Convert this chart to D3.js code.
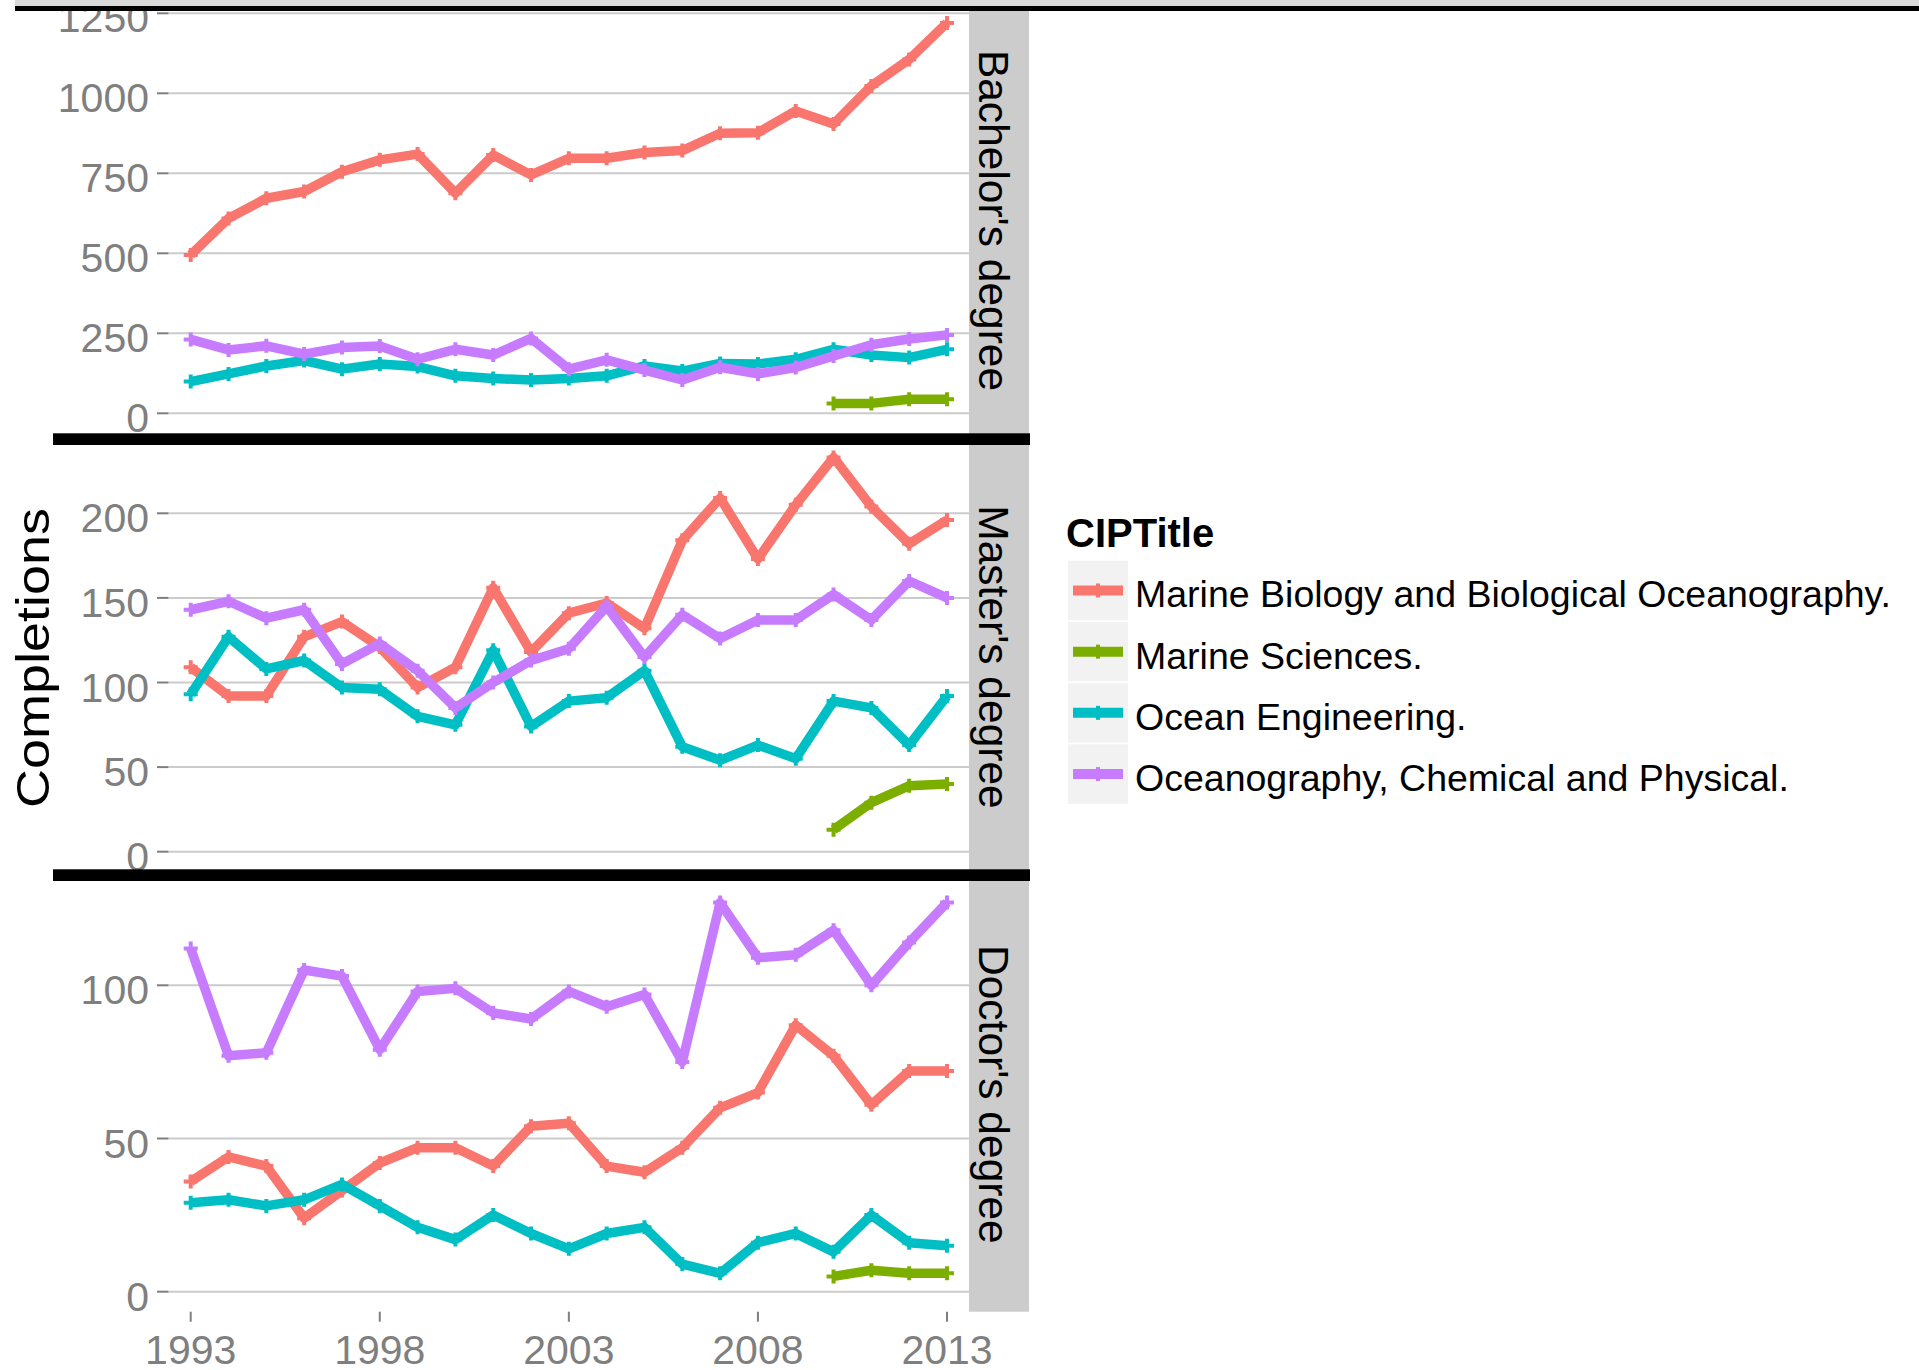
<!DOCTYPE html>
<html>
<head>
<meta charset="utf-8">
<script src="https://cdn.jsdelivr.net/npm/d3@7"></script>
<style>
  html, body { margin: 0; padding: 0; background: #ffffff; }
  svg { display: block; }
  text { font-family: "Liberation Sans", Arial, Helvetica, sans-serif; }
</style>
</head>
<body>
<div id="chart"></div>
<script>
// ---------------- DATA ----------------
const years = [1993, 1994, 1995, 1996, 1997, 1998, 1999, 2000, 2001, 2002, 2003,
               2004, 2005, 2006, 2007, 2008, 2009, 2010, 2011, 2012, 2013];

const seriesNames = [
  "Marine Biology and Biological Oceanography.",
  "Marine Sciences.",
  "Ocean Engineering.",
  "Oceanography, Chemical and Physical."
];
const seriesColors = ["#F8766D", "#7CAE00", "#00BFC4", "#C77CFF"];

const degreeNames = ["Bachelor's degree", "Master's degree", "Doctor's degree"];

// Bachelor's degree
const bachelorMarineBio = [495, 609, 672, 693, 755, 792, 810, 688, 807, 745, 797,
                           797, 815, 821, 875, 877, 945, 904, 1023, 1106, 1220];
const bachelorMarineSci = [null, null, null, null, null, null, null, null, null, null, null,
                           null, null, null, null, null, null, 31, 31, 44, 44];
const bachelorOceanEng  = [99, 123, 148, 165, 138, 154, 146, 117, 109, 104, 109,
                           117, 148, 132, 156, 154, 169, 200, 182, 174, 200];
const bachelorOceanogr  = [231, 198, 211, 185, 206, 210, 169, 200, 182, 234, 138,
                           167, 135, 104, 144, 123, 143, 179, 214, 232, 245];

// Master's degree
const masterMarineBio = [109, 92, 92, 127, 136, 121, 97, 109, 156, 118, 141,
                         147, 132, 184, 209, 173, 205, 233, 204, 182, 196];
const masterMarineSci = [null, null, null, null, null, null, null, null, null, null, null,
                         null, null, null, null, null, null, 13, 29, 39, 40];
const masterOceanEng  = [93, 127, 108, 113, 97, 96, 80, 75, 119, 74, 89,
                         91, 107, 62, 54, 63, 55, 89, 85, 63, 92];
const masterOceanogr  = [143, 148, 138, 143, 111, 123, 107, 85, 100, 113, 120,
                         145, 115, 140, 126, 137, 137, 152, 137, 160, 150];

// Doctor's degree
const doctorMarineBio = [36, 44, 41, 24, 33, 42, 47, 47, 41, 54, 55,
                         41, 39, 47, 60, 65, 87, 77, 61, 72, 72];
const doctorMarineSci = [null, null, null, null, null, null, null, null, null, null, null,
                         null, null, null, null, null, null, 5, 7, 6, 6];
const doctorOceanEng  = [29, 30, 28, 30, 35, 28, 21, 17, 25, 19, 14,
                         19, 21, 9, 6, 16, 19, 13, 25, 16, 15];
const doctorOceanogr  = [112, 77, 78, 105, 103, 79, 98, 99, 91, 89, 98,
                         93, 97, 75, 127, 109, 110, 118, 100, 114, 127];

// Tick labels
const xTicks = [1993, 1998, 2003, 2008, 2013];
const bachelorTicks = [0, 250, 500, 750, 1000, 1250];
const masterTicks = [0, 50, 100, 150, 200];
const doctorTicks = [0, 50, 100];

const yTitle = "Completions";
const legendTitle = "CIPTitle";

// ---------------- LAYOUT ----------------
const W = 1919, H = 1370;
const panelLeft = 168.5, panelRight = 969, stripRight = 1029;

const panels = [
  { name: degreeNames[0], top: 4,   bottom: 437,    domain: [0, 1250], range: [413.3, 13.3],
    ticks: bachelorTicks, series: [bachelorMarineBio, bachelorMarineSci, bachelorOceanEng, bachelorOceanogr] },
  { name: degreeNames[1], top: 441, bottom: 873,    domain: [0, 200],  range: [851.7, 513.3],
    ticks: masterTicks, series: [masterMarineBio, masterMarineSci, masterOceanEng, masterOceanogr] },
  { name: degreeNames[2], top: 877, bottom: 1311.7, domain: [0, 100],  range: [1291.7, 985.3],
    ticks: doctorTicks, series: [doctorMarineBio, doctorMarineSci, doctorOceanEng, doctorOceanogr] }
];

const x = d3.scaleLinear().domain([1993, 2013]).range([190.7, 947]);

const svg = d3.select("#chart").append("svg")
  .attr("width", W).attr("height", H)
  .attr("viewBox", `0 0 ${W} ${H}`);

svg.append("rect").attr("width", W).attr("height", H).attr("fill", "#ffffff");

const tickColor = "#7f7f7f";
const gridColor = "#cbcbcb";

panels.forEach(p => {
  const y = d3.scaleLinear().domain(p.domain).range(p.range);
  const g = svg.append("g");

  // panel background
  g.append("rect")
    .attr("x", panelLeft).attr("y", p.top)
    .attr("width", panelRight - panelLeft).attr("height", p.bottom - p.top)
    .attr("fill", "#ffffff");

  // gridlines
  g.selectAll("line.grid").data(p.ticks).enter().append("line")
    .attr("x1", panelLeft).attr("x2", panelRight)
    .attr("y1", d => y(d)).attr("y2", d => y(d))
    .attr("stroke", gridColor).attr("stroke-width", 2);

  // y ticks
  g.selectAll("line.tick").data(p.ticks).enter().append("line")
    .attr("x1", 157).attr("x2", panelLeft)
    .attr("y1", d => y(d)).attr("y2", d => y(d))
    .attr("stroke", tickColor).attr("stroke-width", 2);

  // y tick labels
  g.selectAll("text.ylab").data(p.ticks).enter().append("text")
    .attr("x", 149).attr("y", d => y(d) + 19)
    .attr("text-anchor", "end")
    .attr("font-size", 41)
    .attr("fill", tickColor)
    .text(d => d);

  // strip
  g.append("rect")
    .attr("x", panelRight).attr("y", p.top)
    .attr("width", stripRight - panelRight).attr("height", p.bottom - p.top)
    .attr("fill", "#cccccc");
  g.append("text")
    .attr("transform", `translate(979,${(p.top + p.bottom) / 2}) rotate(90)`)
    .attr("text-anchor", "middle")
    .attr("font-size", 42.5)
    .attr("fill", "#000000")
    .text(p.name);

  // lines
  const line = d3.line()
    .defined(d => d.v != null)
    .x(d => x(d.year))
    .y(d => y(d.v));

  p.series.forEach((vals, si) => {
    const pts = years.map((yr, i) => ({ year: yr, v: vals[i] }));
    g.append("path")
      .datum(pts)
      .attr("d", line)
      .attr("fill", "none")
      .attr("stroke", seriesColors[si])
      .attr("stroke-width", 9.5)
      .attr("stroke-linejoin", "round")
      .attr("stroke-linecap", "butt");
    g.selectAll(null).data(pts.filter(d => d.v != null)).enter().append("path")
      .attr("d", d => {
        const cx = x(d.year), cy = y(d.v);
        return `M${cx - 7},${cy}h14M${cx},${cy - 7}v14`;
      })
      .attr("stroke", seriesColors[si])
      .attr("stroke-width", 4)
      .attr("fill", "none");
  });
});

// black separators between panels
[[433.3, 11.7], [869.3, 11.7]].forEach(([yy, h]) => {
  svg.append("rect").attr("x", 53).attr("y", yy)
    .attr("width", 1030 - 53).attr("height", h).attr("fill", "#000000");
});

// top band and line
svg.append("rect").attr("x", 15).attr("y", 0).attr("width", W - 15).attr("height", 6).attr("fill", "#d9d9d9");
svg.append("rect").attr("x", 15).attr("y", 6).attr("width", W - 15).attr("height", 5).attr("fill", "#000000");

// x axis
const xa = svg.append("g");
xa.selectAll("line").data(xTicks).enter().append("line")
  .attr("x1", d => x(d)).attr("x2", d => x(d))
  .attr("y1", 1311.7).attr("y2", 1321.7)
  .attr("stroke", tickColor).attr("stroke-width", 2);
xa.selectAll("text").data(xTicks).enter().append("text")
  .attr("x", d => x(d)).attr("y", 1363.5)
  .attr("text-anchor", "middle")
  .attr("font-size", 41)
  .attr("fill", tickColor)
  .text(d => d);

// y title
svg.append("text")
  .attr("transform", "translate(48.5,658) rotate(-90)")
  .attr("text-anchor", "middle")
  .attr("font-size", 47)
  .attr("textLength", 300)
  .attr("lengthAdjust", "spacingAndGlyphs")
  .attr("fill", "#000000")
  .text(yTitle);

// legend
const lg = svg.append("g");
lg.append("text")
  .attr("x", 1066).attr("y", 546.7)
  .attr("font-size", 40).attr("font-weight", "bold")
  .attr("fill", "#000000")
  .text(legendTitle);

const keyTop = 560.7, keyStep = 61.2, keySize = 59.5, keyX = 1068, keyW = 60;
seriesNames.forEach((name, i) => {
  const top = keyTop + i * keyStep;
  const cy = top + keySize / 2;
  lg.append("rect").attr("x", keyX).attr("y", top)
    .attr("width", keyW).attr("height", keySize).attr("fill", "#f2f2f2");
  lg.append("line").attr("x1", keyX + 5).attr("x2", keyX + keyW - 5)
    .attr("y1", cy).attr("y2", cy)
    .attr("stroke", seriesColors[i]).attr("stroke-width", 10);
  lg.append("path")
    .attr("d", `M${keyX + keyW / 2},${cy - 7}v14`)
    .attr("stroke", seriesColors[i]).attr("stroke-width", 4);
  lg.append("text")
    .attr("x", 1135).attr("y", cy + 17)
    .attr("font-size", 37.5)
    .attr("fill", "#000000")
    .text(name);
});
</script>
</body>
</html>
